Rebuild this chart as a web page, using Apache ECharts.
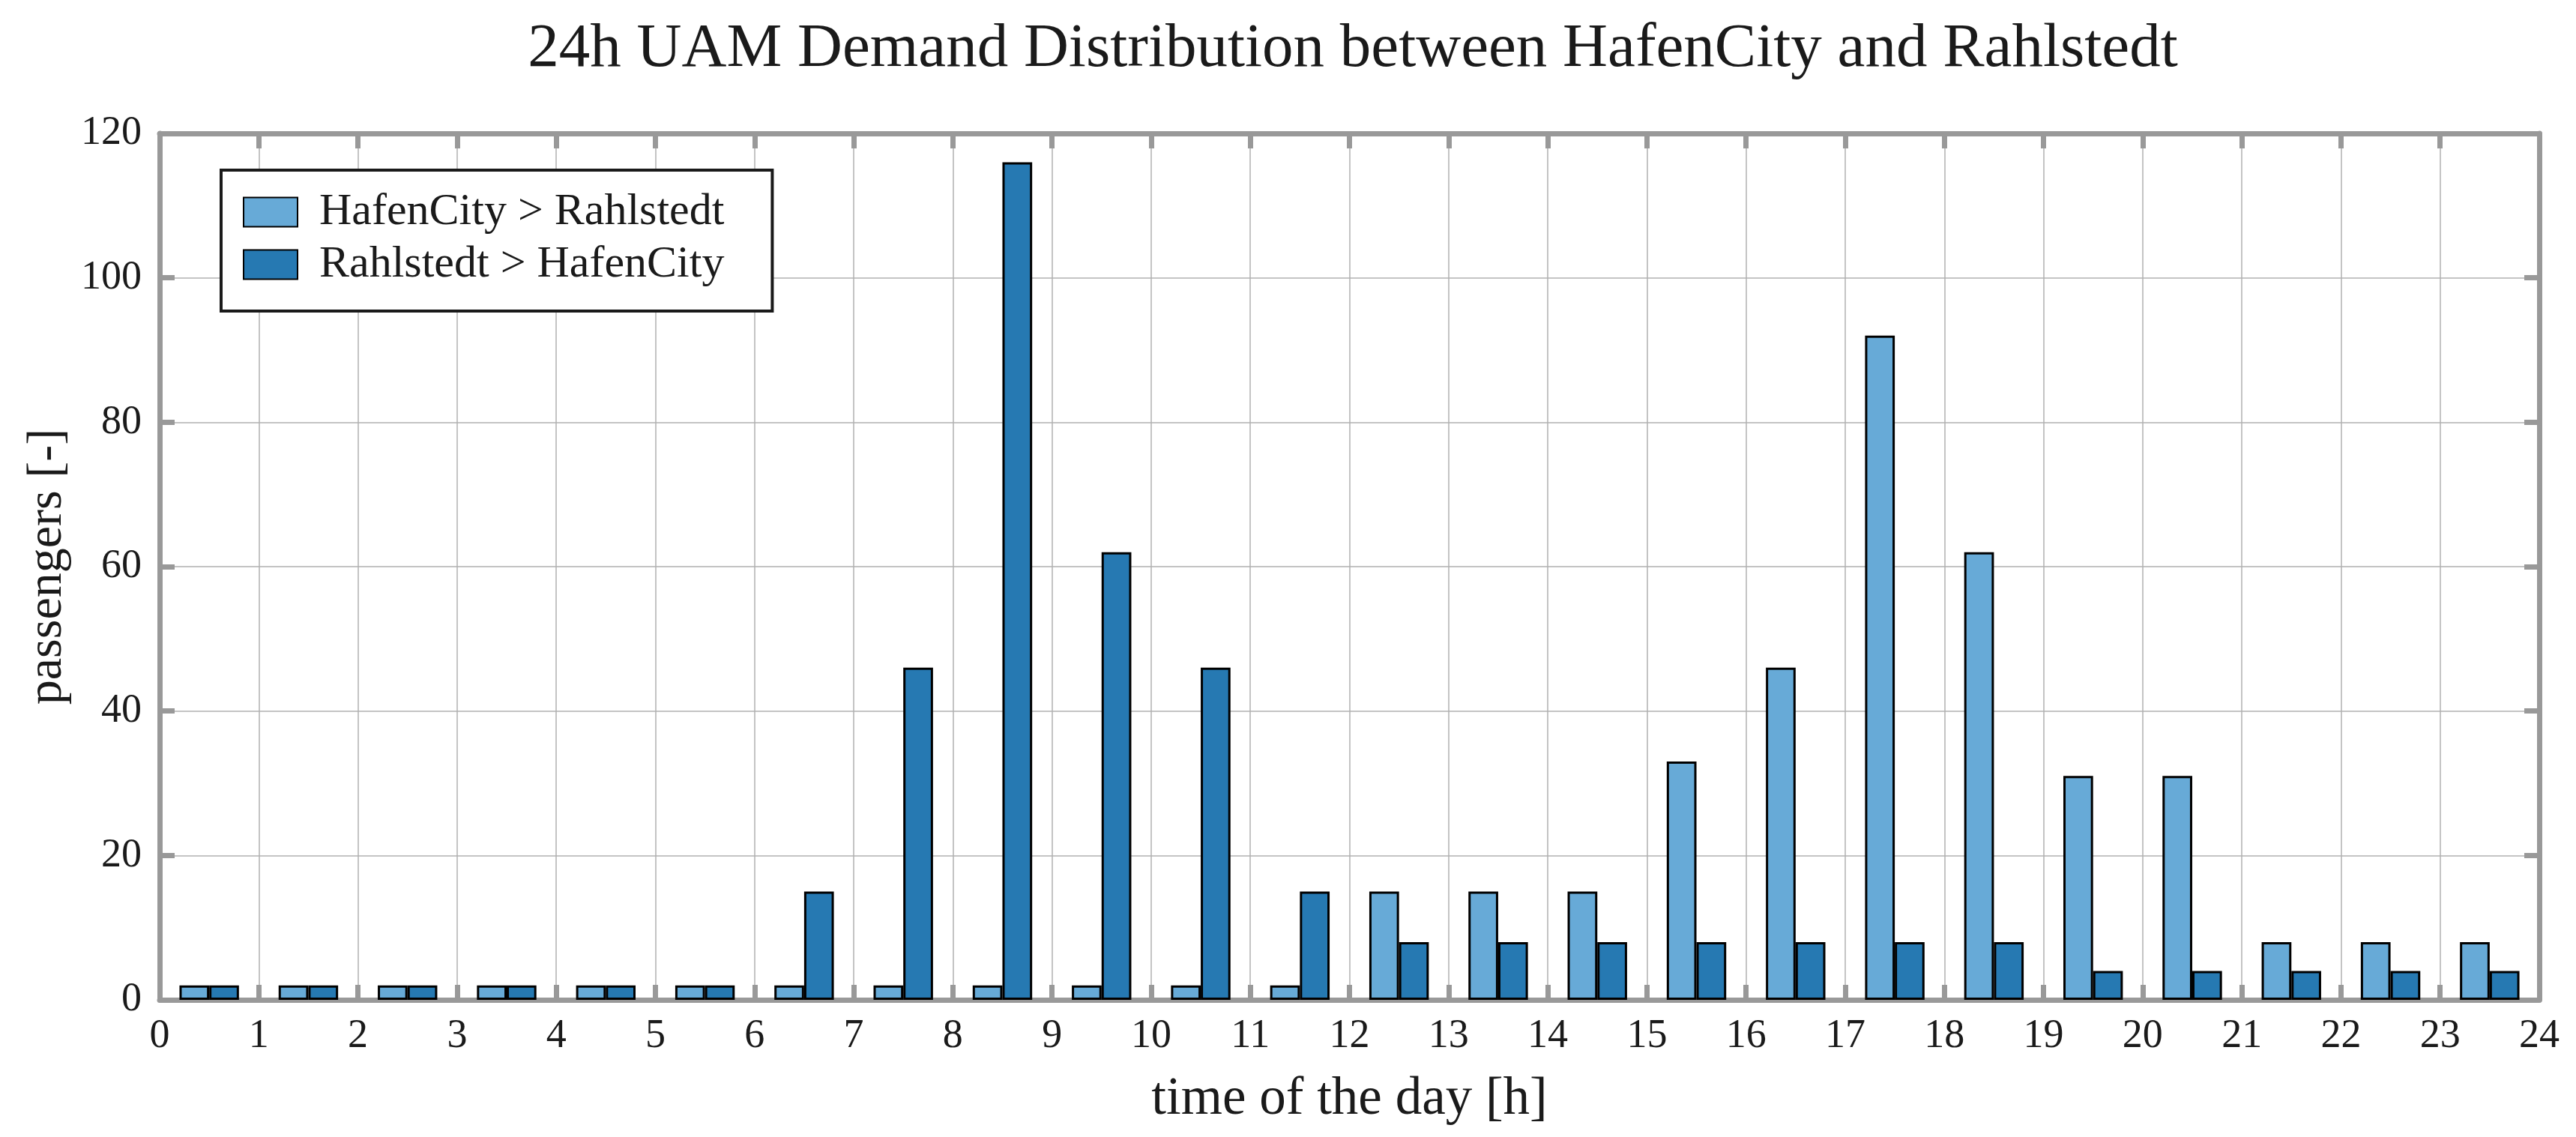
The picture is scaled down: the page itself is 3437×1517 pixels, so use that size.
<!DOCTYPE html>
<html>
<head>
<meta charset="utf-8">
<script src="https://cdn.jsdelivr.net/npm/echarts@6/dist/echarts.min.js"></script>
<style>
html,body{margin:0;padding:0;background:#fff;}
#chart{width:3437px;height:1517px;}
</style>
</head>
<body>
<div id="chart"></div>
<script>
// ---- data ----
const hours = ['0','1','2','3','4','5','6','7','8','9','10','11','12','13','14','15','16','17','18','19','20','21','22','23'];
const hafenToRahl = [2,2,2,2,2,2,2,2,2,2,2,2,15,15,15,33,46,92,62,31,31,8,8,8];
const rahlToHafen = [2,2,2,2,2,2,15,46,116,62,46,15,8,8,8,8,8,8,8,4,4,4,4,4];
const seriesNames = ['HafenCity > Rahlstedt', 'Rahlstedt > HafenCity'];
const titleText = '24h UAM Demand Distribution between HafenCity and Rahlstedt';
const xName = 'time of the day [h]';
const yName = 'passengers [-]';

const FONT = '"Liberation Serif", "DejaVu Serif", serif';
const AX = '#999999';
const GRID = '#b0b0b0';

const chart = echarts.init(document.getElementById('chart'), null, {renderer:'canvas'});
const G = {left:213, top:178, width:3175, height:1156};

const frameAxis = (extra) => Object.assign({
  axisLine:{show:true, onZero:false, lineStyle:{color:AX, width:7}},
  axisTick:{show:true, inside:true, length:20, lineStyle:{color:AX, width:7}},
}, extra);

chart.setOption({
  animation:false,
  backgroundColor:'#fff',
  title:{
    text:titleText, left:1800, top:20, textAlign:'center',
    textStyle:{fontFamily:FONT, fontSize:83, fontWeight:'normal', color:'#1a1a1a'}
  },
  legend:{
    show:true, orient:'vertical', left:295, top:227,
    data:seriesNames,
    padding:[26, 64, 32, 29],
    itemWidth:72, itemHeight:39, itemGap:10,
    icon:'rect',
    backgroundColor:'#fff', borderColor:'#1a1a1a', borderWidth:4, borderRadius:0,
    textStyle:{fontFamily:FONT, fontSize:60, lineHeight:60, color:'#1a1a1a', padding:[0,0,0,24]}
  },
  grid:G,
  xAxis:[
    {type:'category', data:hours, show:false, gridIndex:0, boundaryGap:true},
    frameAxis({type:'value', position:'bottom', min:0, max:24, interval:1,
      name:xName, nameLocation:'middle', nameGap:98,
      nameTextStyle:{fontFamily:FONT, fontSize:71, color:'#1a1a1a'},
      axisLabel:{show:true, margin:22, fontFamily:FONT, fontSize:54, color:'#1a1a1a'},
      splitLine:{show:true, lineStyle:{color:GRID, width:1.5}}}),
    frameAxis({type:'value', position:'top', min:0, max:24, interval:1,
      axisLabel:{show:false}, splitLine:{show:false}})
  ],
  yAxis:[
    frameAxis({type:'value', position:'left', min:0, max:120, interval:20,
      name:yName, nameLocation:'middle', nameGap:110,
      nameTextStyle:{fontFamily:FONT, fontSize:66, color:'#1a1a1a'},
      axisLabel:{show:true, margin:24, fontFamily:FONT, fontSize:54, color:'#1a1a1a'},
      splitLine:{show:true, lineStyle:{color:GRID, width:1.5}}}),
    frameAxis({type:'value', position:'right', min:0, max:120, interval:20,
      axisLabel:{show:false}, splitLine:{show:false}})
  ],
  series:[
    {name:seriesNames[0], type:'bar', xAxisIndex:0, yAxisIndex:0, data:hafenToRahl,
     barGap:'0%', barCategoryGap:'40%',
     itemStyle:{color:'#67aad7', borderColor:'#000', borderWidth:3}},
    {name:seriesNames[1], type:'bar', xAxisIndex:0, yAxisIndex:0, data:rahlToHafen,
     barGap:'0%', barCategoryGap:'40%',
     itemStyle:{color:'#2679b2', borderColor:'#000', borderWidth:3}}
  ]
});
</script>
</body>
</html>
